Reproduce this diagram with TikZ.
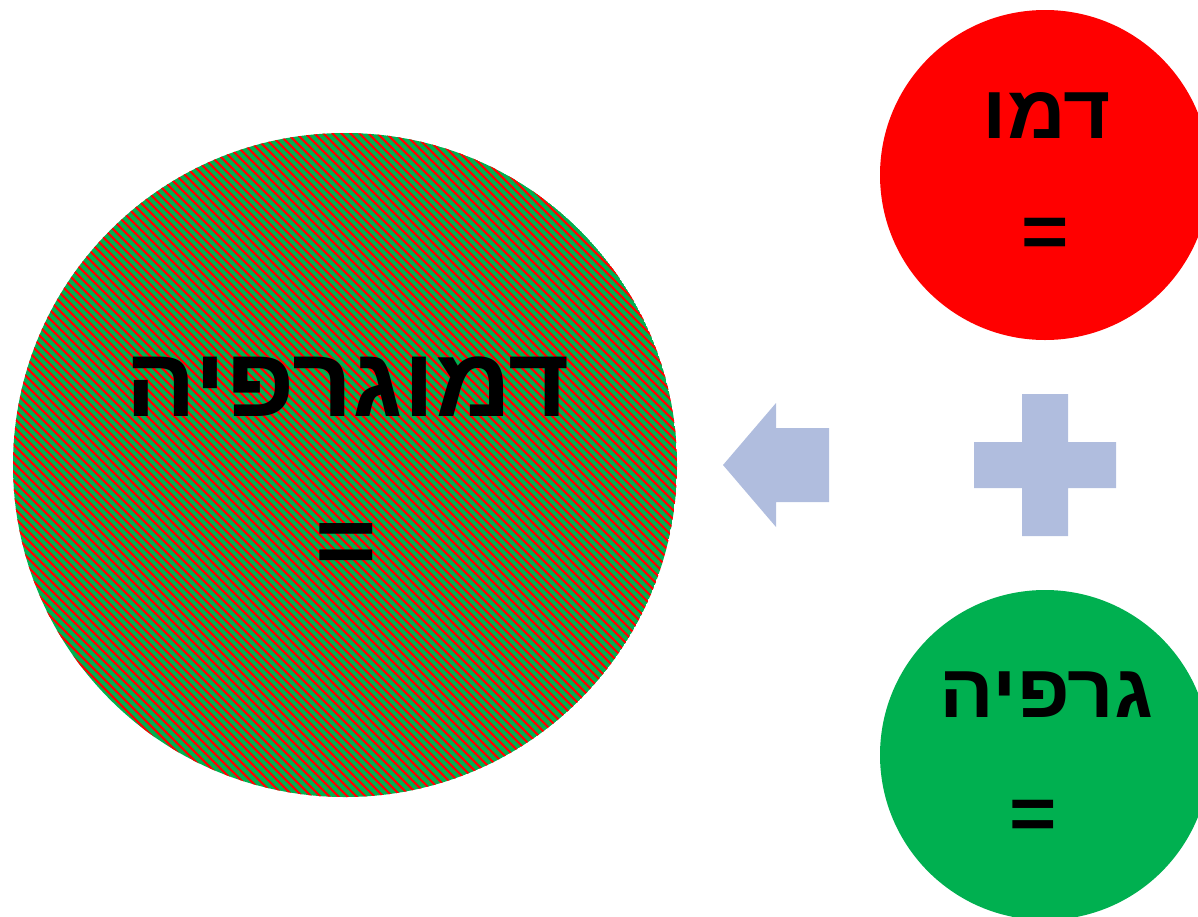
\documentclass[tikz,border=0pt]{standalone}
\usepackage{fontspec}
\newfontfamily\hebfont[Script=Hebrew,FakeStretch=1.075]{Liberation Sans}
\TeXXeTstate=1
\definecolor{cred}{RGB}{255,0,0}
\definecolor{cgreen}{RGB}{0,176,80}
\definecolor{cblue}{RGB}{176,189,222}
\newcount\stripex
\newcount\stripeend
\tikzset{
  heb/.style={inner sep=0pt, anchor=north, text=black},
  bigtxt/.style={heb, font=\hebfont\bfseries\fontsize{98}{110}\selectfont},
  smalltxt/.style={heb, font=\hebfont\bfseries\fontsize{75.5}{85}\selectfont},
  shapefill/.style={fill=cblue, draw=none}
}
\begin{document}
\begin{tikzpicture}[x=1pt,y=-1pt]
\useasboundingbox (0,0) rectangle (1198,916);
\clip (0,0) rectangle (1198,916);
% big striped circle
\begin{scope}
  \clip (345,465) circle (332);
  \fill[cgreen] (345,465) circle (332);
  \pgfsetfillcolor{cred}
  \foreach \r in {133,...,797} {
    \pgfmathtruncatemacro\hw{100*sqrt(max(0,3.32*3.32-((\r+0.5-465)/100)*((\r+0.5-465)/100)))+3}
    \pgfmathtruncatemacro\xs{345-\hw-9-mod(345-\hw-9-\r+9000,9)}
    \stripex=\xs
    \stripeend=\numexpr345+\hw\relax
    \loop
      \pgfpathrectangle{\pgfqpoint{\the\stripex pt}{-\r pt}}{\pgfqpoint{3pt}{-1pt}}%
      \advance\stripex 9
    \ifnum\stripex<\stripeend\repeat
    \pgfusepath{fill}
  }
\end{scope}
% small circles
\fill[cred] (1045,175) circle (165);
\fill[cgreen] (1045,755) circle (165);
% arrow
\fill[shapefill] (723,465) -- (776,403) -- (776,428) -- (829,428) -- (829,502) -- (776,502) -- (776,527) -- cycle;
% plus
\fill[shapefill] (1022,394) -- (1068,394) -- (1068,442) -- (1116,442) -- (1116,488) -- (1068,488) -- (1068,536) -- (1022,536) -- (1022,488) -- (974,488) -- (974,442) -- (1022,442) -- cycle;
% texts
\node[bigtxt] (big) at (347.5,357) {\beginR דמוגרפיה\endR};
\node[bigtxt] (bigeq) at (346,523) {=};
\node[smalltxt] (dam) at (1047,92) {\beginR דמו\endR};
\node[smalltxt] (dameq) at (1045,218) {=};
\node[smalltxt] (graf) at (1046.5,672) {\beginR גרפיה\endR};
\node[smalltxt] (grafeq) at (1033,800) {=};
\end{tikzpicture}
\end{document}
